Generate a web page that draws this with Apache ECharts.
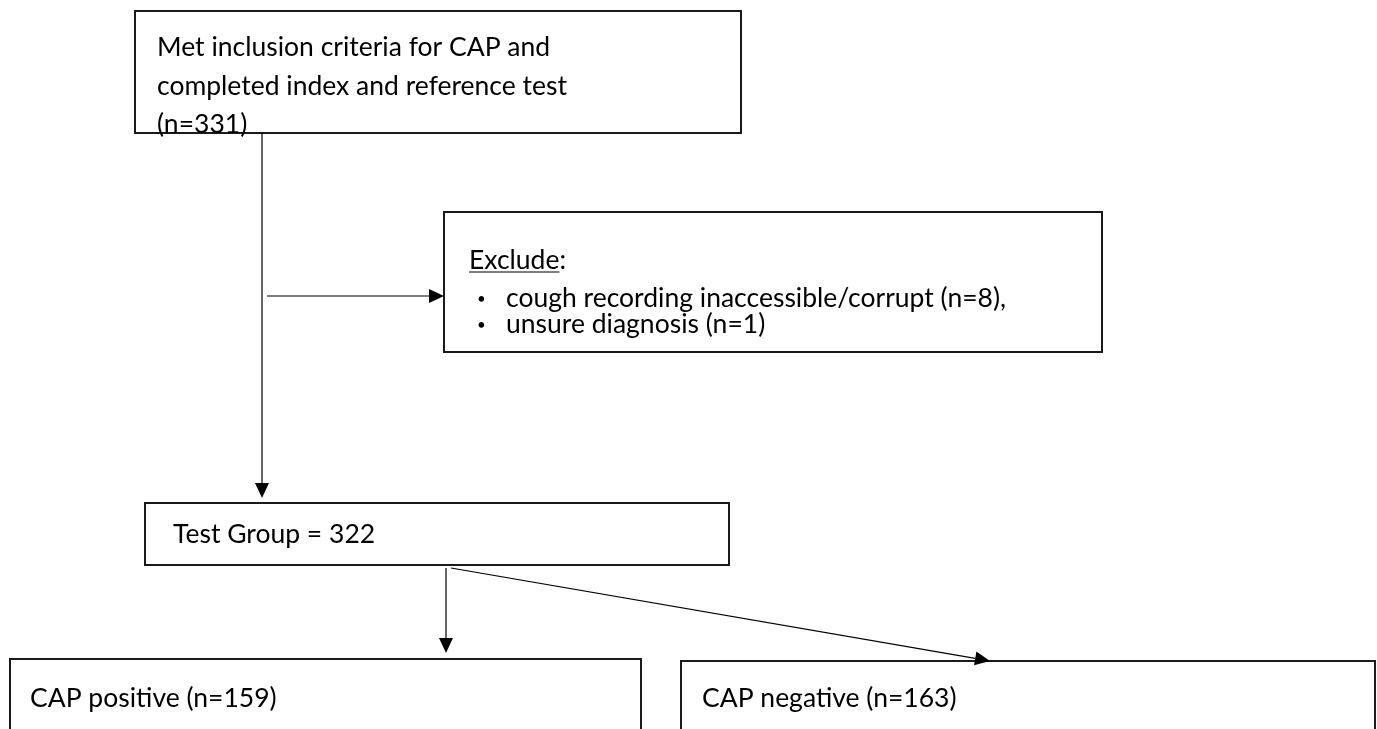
<!DOCTYPE html>
<html lang="en">
<head>
    <meta charset="UTF-8">
    <title>CAP flow diagram</title>
    <style>
        html, body { margin: 0; padding: 0; background: #fff; }
        #main { width: 1377px; height: 729px; }
    </style>
    <script src="https://cdn.jsdelivr.net/npm/echarts@6/dist/echarts.min.js"></script>
</head>
<body>
    <div id="main"></div>
    <script type="text/javascript">
        // 方框 [x1, y1, x2, y2]（页面像素坐标，y 向下）
        var boxes = [
            [135, 11, 741, 133],
            [444, 212, 1102, 352],
            [145, 503, 729, 565],
            [10, 659, 641, 740],
            [681, 661, 1375, 740]
        ];
        // 文字 [x, y, 字号, 下划线]
        var textPos = [
            [157, 47, 26.5, 0], [157, 86, 26.5, 0], [157, 124, 26.5, 0],
            [469, 260, 26.5, 1],
            [477, 299, 15, 0], [506, 298, 26.5, 0],
            [477, 325, 15, 0], [506, 324, 26.5, 0],
            [173, 534, 26.5, 0],
            [30, 698, 26.5, 0],
            [702, 698, 26.5, 0]
        ];
        var textLabels = [
            'Met inclusion criteria for CAP and',
            'completed index and reference test',
            '(n=331)',
            'Exclude',
            '\u2022', 'cough recording inaccessible/corrupt (n=8),',
            '\u2022', 'unsure diagnosis (n=1)',
            'Test Group = 322',
            'CAP positive (n=159)',
            'CAP negative (n=163)'
        ];
        // 箭头 [x1, y1, x2, y2]
        var arrows = [
            [262, 133, 262, 498],
            [267, 296, 444, 296],
            [446, 568, 446, 653],
            [451, 568, 990, 661]
        ];

        var measureCtx = document.createElement('canvas').getContext('2d');

        var myChart = echarts.init(document.getElementById('main'));

        var option = {
            animation: false,
            grid: { left: 0, right: 0, top: 0, bottom: 0 },
            xAxis: { type: 'value', min: 0, max: 1377, show: false },
            yAxis: { type: 'value', min: 0, max: 729, inverse: true, show: false },
            series: [{
                // 方框
                type: 'custom',
                data: boxes,
                clip: false,
                renderItem: function (params, api) {
                    var p1 = api.coord([api.value(0), api.value(1)]);
                    var p2 = api.coord([api.value(2), api.value(3)]);
                    return {
                        type: 'rect',
                        shape: { x: p1[0], y: p1[1], width: p2[0] - p1[0], height: p2[1] - p1[1] },
                        style: { fill: '#fff', stroke: '#1a1a1a', lineWidth: 2 }
                    };
                }
            }, {
                // 连线和箭头
                type: 'custom',
                data: arrows,
                clip: false,
                renderItem: function (params, api) {
                    var a = api.coord([api.value(0), api.value(1)]);
                    var b = api.coord([api.value(2), api.value(3)]);
                    var dx = b[0] - a[0], dy = b[1] - a[1];
                    var len = Math.sqrt(dx * dx + dy * dy);
                    var ux = dx / len, uy = dy / len;
                    var head = 15;
                    var bx = b[0] - ux * head, by = b[1] - uy * head;
                    return {
                        type: 'group',
                        children: [{
                            type: 'line',
                            shape: { x1: a[0], y1: a[1], x2: bx, y2: by },
                            style: { stroke: '#000', lineWidth: 1.2 }
                        }, {
                            type: 'polygon',
                            shape: {
                                points: [
                                    [b[0], b[1]],
                                    [bx - uy * 7, by + ux * 7],
                                    [bx + uy * 7, by - ux * 7]
                                ]
                            },
                            style: { fill: '#000' }
                        }]
                    };
                }
            }, {
                // 文字
                type: 'custom',
                data: textPos,
                clip: false,
                renderItem: function (params, api) {
                    var p = api.coord([api.value(0), api.value(1)]);
                    var font = api.value(2) + 'px Lato';
                    var label = textLabels[params.dataIndex];
                    var children = [{
                        type: 'text',
                        x: p[0],
                        y: p[1],
                        style: {
                            text: label + (api.value(3) ? ':' : ''),
                            fill: '#000',
                            font: font,
                            textAlign: 'left',
                            textVerticalAlign: 'middle'
                        }
                    }];
                    if (api.value(3)) {
                        measureCtx.font = font;
                        var w = measureCtx.measureText(label).width;
                        children.push({
                            type: 'line',
                            shape: { x1: p[0], y1: p[1] + 12, x2: p[0] + w, y2: p[1] + 12 },
                            style: { stroke: '#000', lineWidth: 1.2 }
                        });
                    }
                    return { type: 'group', children: children };
                }
            }]
        };

        myChart.setOption(option);
    </script>
</body>
</html>
